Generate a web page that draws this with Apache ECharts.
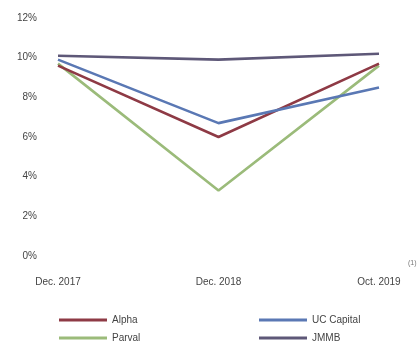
<!DOCTYPE html>
<html>
<head>
<meta charset="utf-8">
<script src="https://cdn.jsdelivr.net/npm/echarts@6/dist/echarts.min.js"></script>
<style>
  html, body { margin: 0; padding: 0; background: #fff; }
  #main { width: 419px; height: 349px; }
</style>
</head>
<body>
<div id="main"></div>
<script>
const periods = ['Dec. 2017', 'Dec. 2018', 'Oct. 2019'];
const alpha = [9.6, 6.0, 9.7];
const parval = [9.7, 3.3, 9.6];
const ucCapital = [9.9, 6.7, 8.5];
const jmmb = [10.1, 9.9, 10.2];

const myChart = echarts.init(document.getElementById('main'));

const labelFont = { color: '#444', fontSize: 10, fontFamily: 'Liberation Sans, Arial, sans-serif' };

function serie(name, data, color) {
    return {
        name: name,
        type: 'line',
        data: data,
        symbol: 'none',
        itemStyle: { color: color },
        lineStyle: { color: color, width: 2.6 }
    };
}

option = {
    animation: false,
    grid: { left: 58, right: 40, top: 18, bottom: 93 },
    xAxis: {
        type: 'category',
        data: periods,
        boundaryGap: false,
        axisLine: { show: false },
        axisTick: { show: false },
        axisLabel: Object.assign({ margin: 21 }, labelFont)
    },
    yAxis: {
        type: 'value',
        min: 0,
        max: 12,
        interval: 2,
        splitLine: { show: false },
        axisLine: { show: false },
        axisTick: { show: false },
        axisLabel: Object.assign({ margin: 21, formatter: '{value}%' }, labelFont)
    },
    legend: [{
        data: ['Alpha', 'Parval'],
        orient: 'vertical',
        left: 54,
        top: 310,
        itemWidth: 48,
        itemHeight: 3,
        itemGap: 8,
        icon: 'rect',
        textStyle: labelFont
    }, {
        data: ['UC Capital', 'JMMB'],
        orient: 'vertical',
        left: 254,
        top: 310,
        itemWidth: 48,
        itemHeight: 3,
        itemGap: 8,
        icon: 'rect',
        textStyle: labelFont
    }],
    graphic: [{
        type: 'text',
        left: 408,
        top: 260,
        style: { text: '(1)', fill: '#777', fontSize: 7 }
    }],
    series: [
        serie('Parval', parval, '#9bbb7a'),
        serie('Alpha', alpha, '#8e3a45'),
        serie('UC Capital', ucCapital, '#5a78b4'),
        serie('JMMB', jmmb, '#5e5878')
    ]
};

myChart.setOption(option);
</script>
</body>
</html>
